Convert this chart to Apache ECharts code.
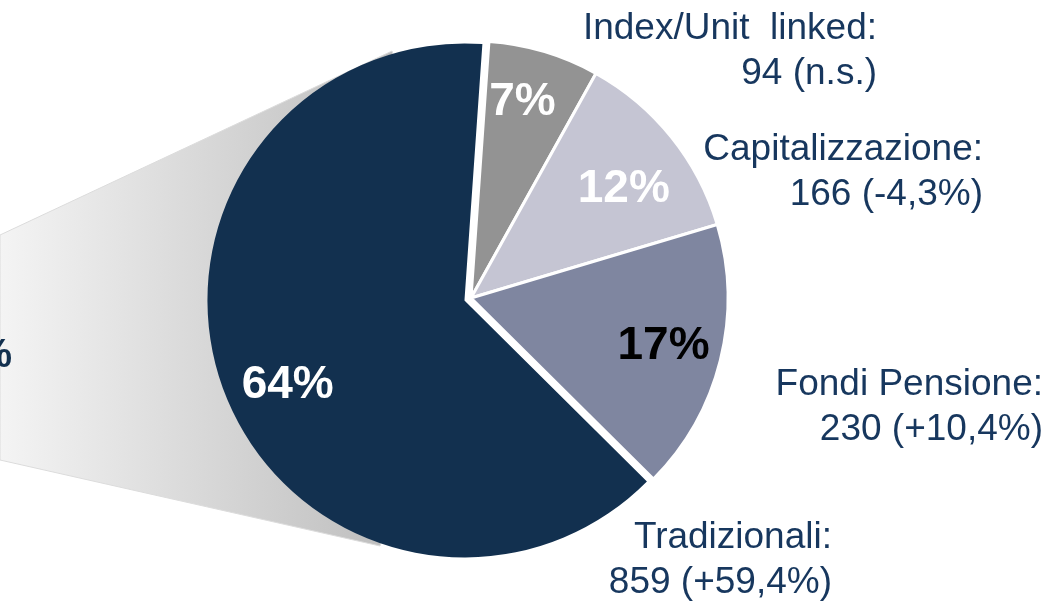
<!DOCTYPE html>
<html>
<head>
<meta charset="utf-8">
<style>
  html, body { margin: 0; padding: 0; background: #fff; }
  #chart { width: 1048px; height: 602px; }
</style>
<script src="https://cdn.jsdelivr.net/npm/echarts@6/dist/echarts.min.js"></script>
</head>
<body>
<div id="chart"></div>
<script>
// premi per ramo (valori e variazione)
const categories = ['Index/Unit  linked', 'Capitalizzazione', 'Fondi Pensione', 'Tradizionali'];
const premiums = [94, 166, 230, 859];
const changes = ['n.s.', '-4,3%', '+10,4%', '+59,4%'];

const sliceColors = ['#939393', '#c5c5d3', '#7f86a0', '#12304f'];
const pctColors = ['#ffffff', '#ffffff', '#000000', '#ffffff'];
// small nudges for the percentage labels
const pctNudge = [[-5, -5], [-2, 16], [0, 0], [9, 15]];
// right edge / vertical middle of the outside text blocks
const outsidePos = [[877, 51], [983, 172], [1043, 407], [832, 560]];
const textColor = '#17375e';
const font = "'Liberation Sans', Arial, sans-serif";

const chart = echarts.init(document.getElementById('chart'));

const center = [471, 298];
const radius = 257;

const outsideTexts = categories.map(function (name, i) {
  return {
    type: 'text',
    z: 10,
    x: outsidePos[i][0],
    y: outsidePos[i][1],
    style: {
      text: name + ':\n' + premiums[i] + ' (' + changes[i] + ')',
      fill: textColor,
      font: '37px ' + font,
      lineHeight: 45,
      align: 'right',
      verticalAlign: 'middle'
    }
  };
});

const option = {
  animation: false,
  graphic: [
    {
      type: 'polygon',
      z: 0,
      shape: {
        points: [[0, 235], [392, 51], [464, 300], [380, 546], [0, 460]]
      },
      style: {
        fill: new echarts.graphic.LinearGradient(0, 0, 1, 0, [
          { offset: 0, color: '#f4f4f4' },
          { offset: 0.72, color: '#c6c6c6' },
          { offset: 1, color: '#b2b2b2' }
        ]),
        stroke: '#dcdcdc',
        lineWidth: 1
      }
    },
    {
      type: 'text',
      z: 1,
      x: 12,
      y: 356,
      style: {
        text: '%',
        fill: '#12304f',
        font: 'bold 40px ' + font,
        align: 'right',
        verticalAlign: 'middle'
      }
    }
  ].concat(outsideTexts),
  series: [
    {
      type: 'pie',
      center: center,
      radius: [0, radius],
      startAngle: 86,
      clockwise: true,
      silent: true,
      selectedMode: 'single',
      selectedOffset: 7,
      z: 2,
      label: { show: false },
      labelLine: { show: false },
      data: categories.map(function (name, i) {
        const st = {
          color: sliceColors[i],
          borderColor: '#ffffff',
          borderWidth: i === 3 ? 0 : 3
        };
        return {
          name: name,
          value: premiums[i],
          selected: i === 3,
          itemStyle: st,
          select: { itemStyle: st }
        };
      })
    },
    {
      // percentuali dentro le fette
      type: 'pie',
      center: center,
      radius: [134, radius],
      startAngle: 86,
      clockwise: true,
      silent: true,
      selectedMode: 'single',
      selectedOffset: 7,
      z: 3,
      itemStyle: { color: 'rgba(0,0,0,0)' },
      select: { itemStyle: { color: 'rgba(0,0,0,0)', borderWidth: 0 } },
      label: {
        show: true,
        position: 'inside',
        fontFamily: font,
        fontSize: 46,
        fontWeight: 'bold',
        formatter: function (p) {
          return Math.round(p.percent) + '%';
        }
      },
      labelLine: { show: false },
      labelLayout: function (p) {
        const n = pctNudge[p.dataIndex];
        return { dx: n[0], dy: n[1] };
      },
      data: categories.map(function (name, i) {
        return {
          name: name,
          value: premiums[i],
          selected: i === 3,
          label: { color: pctColors[i] }
        };
      })
    }
  ]
};

chart.setOption(option);
</script>
</body>
</html>
